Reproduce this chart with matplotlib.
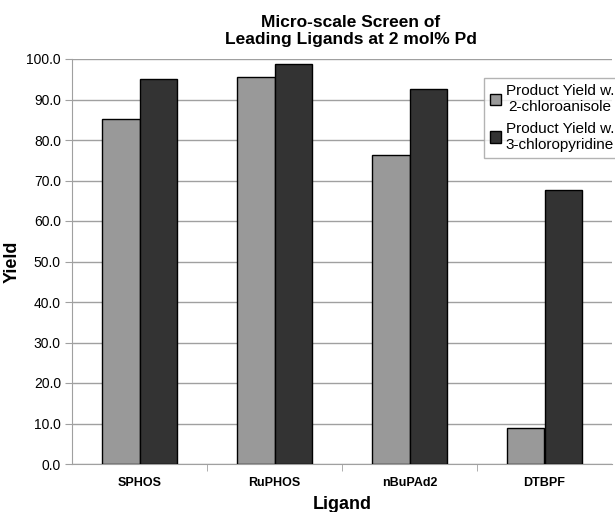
import numpy as np
import matplotlib
matplotlib.use('Agg')
import matplotlib.pyplot as plt

ligands = ['SPHOS', 'RuPHOS', 'nBuPAd2', 'DTBPF']
yield_anisole = [85.2, 95.5, 76.2, 9.0]
yield_pyridine = [95.0, 98.8, 92.5, 67.6]
series_labels = ['Product Yield w.\n2-chloroanisole', 'Product Yield w.\n3-chloropyridine']

plt.rcParams['font.family'] = ['Liberation Sans', 'DejaVu Sans']

fig = plt.figure(figsize=(6.15, 5.12), dpi=100)
ax = fig.add_axes([72/615, 1-464/512, 540/615, 405/512])

x = np.arange(len(ligands))
w = 0.275
ax.bar(x - w/2, yield_anisole, w, color='#999999', edgecolor='black', linewidth=1, label=series_labels[0], zorder=3)
ax.bar(x + w/2, yield_pyridine, w, color='#333333', edgecolor='black', linewidth=1, label=series_labels[1], zorder=3)

ax.set_xlim(-0.5, len(ligands) - 0.5)
ax.set_ylim(0, 100)
ax.set_yticks(np.arange(0, 101, 10))
ax.set_yticklabels(['%.1f' % v for v in np.arange(0, 101, 10)], fontsize=10)
ax.set_xticks(x)
ax.set_xticklabels(ligands, fontsize=9, fontweight='bold')
# small marks between the categories
ax.set_xticks(np.arange(0.5, len(ligands) - 1, 1), minor=True)
ax.tick_params(axis='x', which='major', length=0, pad=9)
ax.tick_params(axis='x', which='minor', length=5, color='#a0a0a0')
ax.tick_params(axis='y', length=5, color='#a0a0a0', pad=3)
ax.yaxis.grid(True, color='#a0a0a0', linewidth=1, zorder=0)
for s in ['top', 'right']:
    ax.spines[s].set_visible(False)
ax.spines['left'].set_color('#a0a0a0')
ax.spines['bottom'].set_color('#a0a0a0')

ax.set_xlabel('Ligand', fontsize=13, fontweight='bold', va='center')
ax.set_ylabel('Yield', fontsize=13, fontweight='bold')
ax.xaxis.set_label_coords(0.5, -0.1)
ax.yaxis.set_label_coords(-0.096, 0.5)
fig.text(0.57, 1-31/512, 'Micro-scale Screen of\nLeading Ligands at 2 mol% Pd',
         ha='center', va='center', fontsize=12.5, fontweight='bold', linespacing=1.15)

leg = ax.legend(loc='upper right', bbox_to_anchor=(1.024, 0.965), fontsize=11,
                frameon=True, fancybox=False, edgecolor='#a0a0a0', borderpad=0.4,
                handlelength=0.75, handleheight=0.75, handletextpad=0.3, labelspacing=0.5,
                borderaxespad=0.3)
leg.get_frame().set_linewidth(1)
for t in leg.get_texts():
    t.set_ha('center')

fig.savefig('out.png', dpi=100)
